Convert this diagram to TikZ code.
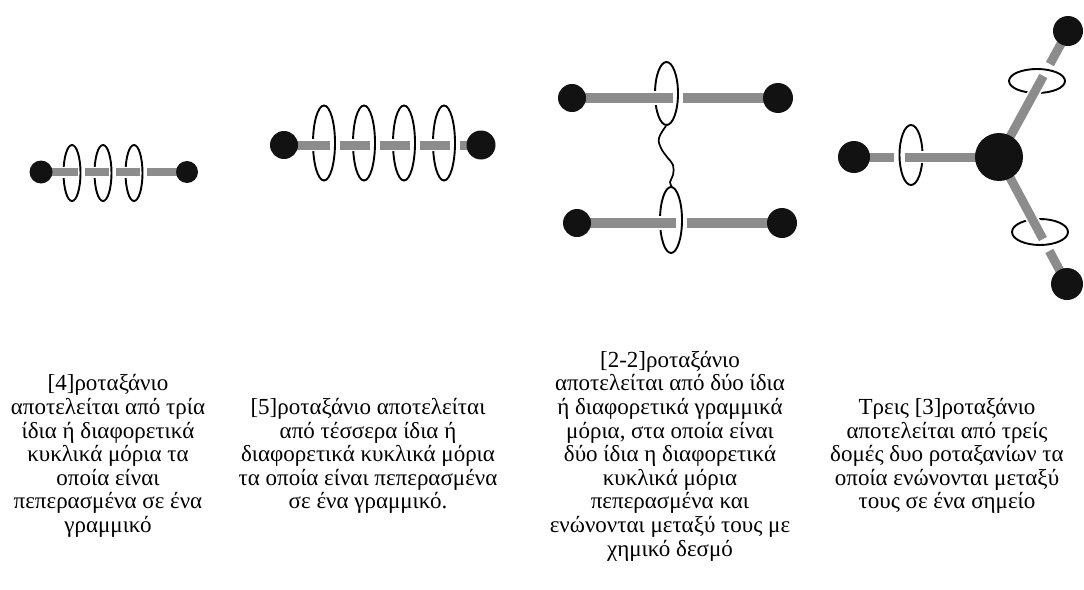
\documentclass[tikz,border=0pt]{standalone}
\usepackage{fontspec}
\setmainfont{Liberation Serif}
\usetikzlibrary{calc}
\definecolor{rodgray}{RGB}{140,140,140}
\definecolor{balljet}{RGB}{18,18,18}
\tikzset{
  rod/.style={draw=rodgray, line width=#1},
  halo/.style={draw=white, line width=#1+3.5pt},
  ring/.style={draw=black, line width=1.9pt},
  ball/.style={circle, fill=balljet, inner sep=0pt, minimum size=#1},
  caption/.style={align=center, inner sep=0pt,
    font=\fontsize{23}{23.6}\selectfont},
}
% a rod piece: white outline first, so it hides the ring arc behind it
\newcommand\rodpiece[3]{%
  \draw[halo=#1] (#2) -- (#3);
  \draw[rod=#1] (#2) -- (#3);}
\begin{document}
\begin{tikzpicture}[x=1pt, y=-1pt]
\useasboundingbox (0,0) rectangle (1084,589);

% ---------- [4]rotaxane ----------
\coordinate (a0) at (41,172);
\coordinate (a4) at (187,172);
\foreach \cx [count=\i] in {72,103,134}{
  \draw[ring] (\cx,173) ellipse [x radius=8.5, y radius=28];
}
\coordinate (a1l) at (77.5,172);  \coordinate (a1r) at (84.5,172);
\coordinate (a2l) at (108.5,172); \coordinate (a2r) at (115.5,172);
\coordinate (a3l) at (139.5,172); \coordinate (a3r) at (146.5,172);
\rodpiece{7.5pt}{a0}{a1l}
\rodpiece{7.5pt}{a1r}{a2l}
\rodpiece{7.5pt}{a2r}{a3l}
\rodpiece{7.5pt}{a3r}{a4}
\node[ball=23pt] (A0) at (a0) {};
\node[ball=22pt] (A4) at (a4) {};

% ---------- [5]rotaxane ----------
\coordinate (b0) at (284,145);
\coordinate (b5) at (481,145);
\foreach \cx in {324,364,404,444}{
  \draw[ring] (\cx,143) ellipse [x radius=11, y radius=37.5];
}
\coordinate (b1l) at (330,145); \coordinate (b1r) at (340,145);
\coordinate (b2l) at (370,145); \coordinate (b2r) at (380,145);
\coordinate (b3l) at (410,145); \coordinate (b3r) at (420,145);
\coordinate (b4l) at (450,145); \coordinate (b4r) at (460,145);
\rodpiece{9pt}{b0}{b1l}
\rodpiece{9pt}{b1r}{b2l}
\rodpiece{9pt}{b2r}{b3l}
\rodpiece{9pt}{b3r}{b4l}
\rodpiece{9pt}{b4r}{b5}
\node[ball=28pt] (B0) at (b0) {};
\node[ball=29pt] (B5) at (b5) {};

% ---------- [2-2]rotaxane ----------
\coordinate (c0) at (572,98);
\coordinate (c3) at (778,98);
\coordinate (d0) at (577,223);
\coordinate (d3) at (782,223);
\draw[ring] (666.5,93.5) ellipse [x radius=11.5, y radius=31.5];
\draw[ring] (671,220) ellipse [x radius=11, y radius=33];
\coordinate (c1) at (673,98); \coordinate (c2) at (683,98);
\coordinate (d1) at (676,223); \coordinate (d2) at (687,223);
\rodpiece{10pt}{c0}{c1}
\rodpiece{10pt}{c2}{c3}
\rodpiece{10pt}{d0}{d1}
\rodpiece{10pt}{d2}{d3}
% chemical bond between the two rings
\coordinate (w0) at (666,126);
\coordinate (w1) at (672,187);
\draw[line width=1.7pt, black] plot[smooth, tension=0.7] coordinates
  {(w0) (659,138) (661,148) (667,157) (673,165) (673,175) (670,182) (w1)};
\node[ball=28pt] (C0) at (c0) {};
\node[ball=30pt] (C3) at (c3) {};
\node[ball=28pt] (D0) at (d0) {};
\node[ball=30pt] (D3) at (d3) {};

% ---------- triple [3]rotaxane ----------
\coordinate (hub) at (999,157);
\coordinate (eL) at (854,157);
\coordinate (eT) at (1068,31);
\coordinate (eB) at (1067,284);
\draw[ring] (911,155) ellipse [x radius=11.5, y radius=30];
\draw[ring] (1037,81) ellipse [x radius=28, y radius=12];
\draw[ring] (1040,232) ellipse [x radius=28, y radius=13];
\coordinate (l1) at (894,157); \coordinate (l2) at (905,157);
\coordinate (t1) at ($(hub)!0.643!(eT)$); \coordinate (t2) at ($(hub)!0.738!(eT)$);
\coordinate (u1) at ($(hub)!0.646!(eB)$); \coordinate (u2) at ($(hub)!0.740!(eB)$);
\rodpiece{9pt}{eL}{l1}
\rodpiece{9pt}{l2}{hub}
\rodpiece{9pt}{hub}{t1}
\rodpiece{9pt}{t2}{eT}
\rodpiece{9pt}{hub}{u1}
\rodpiece{9pt}{u2}{eB}
\node[ball=48pt] (H) at (hub) {};
\node[ball=32pt] (EL) at (eL) {};
\node[ball=30pt] (ET) at (eT) {};
\node[ball=32pt] (EB) at (eB) {};

% ---------- captions ----------
\node[caption] (cap1) at (108,456) {[4]ροταξάνιο\\αποτελείται από τρία\\ίδια ή διαφορετικά\\κυκλικά μόρια τα\\οποία είναι\\πεπερασμένα σε ένα\\γραμμικό};
\node[caption] (cap2) at (368,456) {[5]ροταξάνιο αποτελείται\\από τέσσερα ίδια ή\\διαφορετικά κυκλικά μόρια\\τα οποία είναι πεπερασμένα\\σε ένα γραμμικό.};
\node[caption] (cap3) at (670,456) {[2-2]ροταξάνιο\\αποτελείται από δύο ίδια\\ή διαφορετικά γραμμικά\\μόρια, στα οποία είναι\\δύο ίδια η διαφορετικά\\κυκλικά μόρια\\πεπερασμένα και\\ενώνονται μεταξύ τους με\\χημικό δεσμό};
\node[caption] (cap4) at (947,456) {Τρεις [3]ροταξάνιο\\αποτελείται από τρείς\\δομές δυο ροταξανίων τα\\οποία ενώνονται μεταξύ\\τους σε ένα σημείο};
\end{tikzpicture}
\end{document}
